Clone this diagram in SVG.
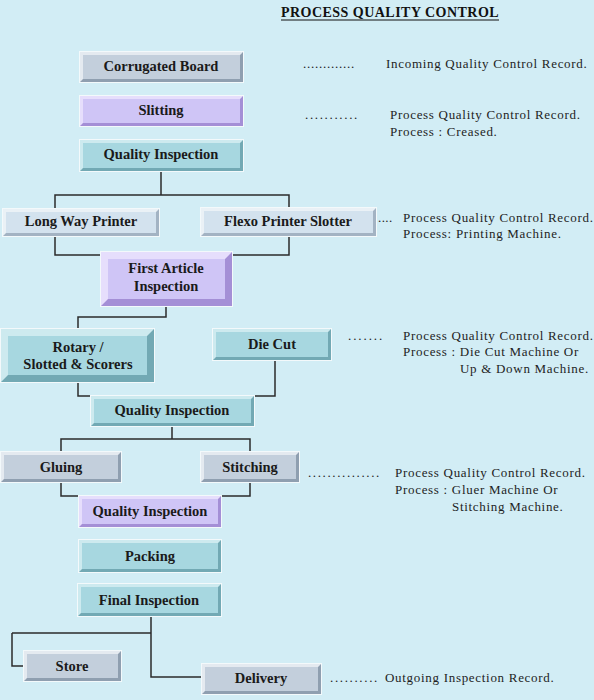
<svg xmlns="http://www.w3.org/2000/svg" width="594" height="700" viewBox="0 0 594 700">
<style>
.halo{fill:#f3f9fb}
.lbl{font-family:"Liberation Serif","Times New Roman",serif;font-weight:bold;font-size:14.5px;fill:#1a1a1a;text-anchor:middle}
.note{font-family:"Liberation Serif","Times New Roman",serif;font-size:13px;letter-spacing:0.7px;fill:#1e1e1e}
.title{font-family:"Liberation Serif","Times New Roman",serif;font-weight:bold;font-size:14px;letter-spacing:0.4px;fill:#111}
.gray .d{fill:#8f9fb0}.gray .l{fill:#e4eaf0}.gray .f{fill:#c3cfdc}
.lav .d{fill:#a48fd6}.lav .l{fill:#e6defc}.lav .f{fill:#cfc5f6}
.teal .d{fill:#72a9b4}.teal .l{fill:#cdeaef}.teal .f{fill:#a7d7e0}
.lite .d{fill:#a3b3c3}.lite .l{fill:#eaf1f6}.lite .f{fill:#d3e2ee}
#connectors path{fill:none;stroke:#2b2b2b;stroke-width:1.5}
</style>
<rect width="594" height="700" fill="#d2edf5"/>
<g id="title">
<text class="title" x="281" y="17" textLength="218" lengthAdjust="spacing">PROCESS QUALITY CONTROL</text>
<line x1="281" y1="20" x2="499" y2="20" stroke="#111" stroke-width="1.2"/>
</g>
<g id="connectors">
<path d="M161,172V195M55,208V195H289V207"/>
<path d="M55,237V255H100M289,237V255H233"/>
<path d="M166,307V317H78V328"/>
<path d="M78,383V396H90M275,361V396H255"/>
<path d="M172,427V439M61,451V439H250V451"/>
<path d="M61,483V496H79M250,483V496H221"/>
<path d="M151,617V677H201M12,633H151M12,633V666H23"/>
</g>
<g id="corrugated" class="gray">
<rect class="halo" x="79" y="51" width="165" height="32"/>
<rect class="d" x="80" y="52" width="163" height="30"/>
<polygon class="l" points="80,52 243,52 240,55 83,55 83,79 80,82"/>
<rect class="f" x="83" y="55" width="157" height="24"/>
<text class="lbl" x="161" y="71">Corrugated Board</text>
</g>
<g id="slitting" class="lav">
<rect class="halo" x="79" y="95" width="165" height="32"/>
<rect class="d" x="80" y="96" width="163" height="30"/>
<polygon class="l" points="80,96 243,96 240,99 83,99 83,123 80,126"/>
<rect class="f" x="83" y="99" width="157" height="24"/>
<text class="lbl" x="161" y="115">Slitting</text>
</g>
<g id="qi1" class="teal">
<rect class="halo" x="79" y="139" width="165" height="33"/>
<rect class="d" x="80" y="140" width="163" height="31"/>
<polygon class="l" points="80,140 243,140 240,143 83,143 83,168 80,171"/>
<rect class="f" x="83" y="143" width="157" height="25"/>
<text class="lbl" x="161" y="159">Quality Inspection</text>
</g>
<g id="longway" class="lite">
<rect class="halo" x="2" y="208" width="158" height="29"/>
<rect class="d" x="3" y="209" width="156" height="27"/>
<polygon class="l" points="3,209 159,209 156,212 6,212 6,233 3,236"/>
<rect class="f" x="6" y="212" width="150" height="21"/>
<text class="lbl" x="81" y="226">Long Way Printer</text>
</g>
<g id="flexo" class="lite">
<rect class="halo" x="200" y="207" width="177" height="30"/>
<rect class="d" x="201" y="208" width="175" height="28"/>
<polygon class="l" points="201,208 376,208 373,211 204,211 204,233 201,236"/>
<rect class="f" x="204" y="211" width="169" height="22"/>
<text class="lbl" x="288" y="226">Flexo Printer Slotter</text>
</g>
<g id="firstarticle" class="lav">
<rect class="halo" x="100" y="251" width="133" height="56"/>
<rect class="d" x="101" y="252" width="131" height="54"/>
<polygon class="l" points="101,252 232,252 225,259 108,259 108,299 101,306"/>
<rect class="f" x="108" y="259" width="117" height="40"/>
<text class="lbl" x="166" y="273">First Article</text>
<text class="lbl" x="166" y="291">Inspection</text>
</g>
<g id="rotary" class="teal">
<rect class="halo" x="0" y="328" width="155" height="55"/>
<rect class="d" x="1" y="329" width="153" height="53"/>
<polygon class="l" points="1,329 154,329 147,336 8,336 8,375 1,382"/>
<rect class="f" x="8" y="336" width="139" height="39"/>
<text class="lbl" x="78" y="352">Rotary /</text>
<text class="lbl" x="78" y="369">Slotted &amp; Scorers</text>
</g>
<g id="diecut" class="teal">
<rect class="halo" x="212" y="328" width="120" height="33"/>
<rect class="d" x="213" y="329" width="118" height="31"/>
<polygon class="l" points="213,329 331,329 328,332 216,332 216,357 213,360"/>
<rect class="f" x="216" y="332" width="112" height="25"/>
<text class="lbl" x="272" y="349">Die Cut</text>
</g>
<g id="qi2" class="teal">
<rect class="halo" x="90" y="395" width="165" height="32"/>
<rect class="d" x="91" y="396" width="163" height="30"/>
<polygon class="l" points="91,396 254,396 251,399 94,399 94,423 91,426"/>
<rect class="f" x="94" y="399" width="157" height="24"/>
<text class="lbl" x="172" y="415">Quality Inspection</text>
</g>
<g id="gluing" class="gray">
<rect class="halo" x="0" y="451" width="122" height="32"/>
<rect class="d" x="1" y="452" width="120" height="30"/>
<polygon class="l" points="1,452 121,452 118,455 4,455 4,479 1,482"/>
<rect class="f" x="4" y="455" width="114" height="24"/>
<text class="lbl" x="61" y="472">Gluing</text>
</g>
<g id="stitching" class="gray">
<rect class="halo" x="200" y="451" width="100" height="32"/>
<rect class="d" x="201" y="452" width="98" height="30"/>
<polygon class="l" points="201,452 299,452 296,455 204,455 204,479 201,482"/>
<rect class="f" x="204" y="455" width="92" height="24"/>
<text class="lbl" x="250" y="472">Stitching</text>
</g>
<g id="qi3" class="lav">
<rect class="halo" x="78" y="495" width="144" height="33"/>
<rect class="d" x="79" y="496" width="142" height="31"/>
<polygon class="l" points="79,496 221,496 218,499 82,499 82,524 79,527"/>
<rect class="f" x="82" y="499" width="136" height="25"/>
<text class="lbl" x="150" y="516">Quality Inspection</text>
</g>
<g id="packing" class="teal">
<rect class="halo" x="78" y="539" width="144" height="34"/>
<rect class="d" x="79" y="540" width="142" height="32"/>
<polygon class="l" points="79,540 221,540 218,543 82,543 82,569 79,572"/>
<rect class="f" x="82" y="543" width="136" height="26"/>
<text class="lbl" x="150" y="561">Packing</text>
</g>
<g id="final" class="teal">
<rect class="halo" x="77" y="583" width="145" height="34"/>
<rect class="d" x="78" y="584" width="143" height="32"/>
<polygon class="l" points="78,584 221,584 218,587 81,587 81,613 78,616"/>
<rect class="f" x="81" y="587" width="137" height="26"/>
<text class="lbl" x="149" y="605">Final Inspection</text>
</g>
<g id="store" class="gray">
<rect class="halo" x="23" y="650" width="99" height="32"/>
<rect class="d" x="24" y="651" width="97" height="30"/>
<polygon class="l" points="24,651 121,651 118,654 27,654 27,678 24,681"/>
<rect class="f" x="27" y="654" width="91" height="24"/>
<text class="lbl" x="72" y="671">Store</text>
</g>
<g id="delivery" class="gray">
<rect class="halo" x="201" y="663" width="121" height="32"/>
<rect class="d" x="202" y="664" width="119" height="30"/>
<polygon class="l" points="202,664 321,664 318,667 205,667 205,691 202,694"/>
<rect class="f" x="205" y="667" width="113" height="24"/>
<text class="lbl" x="261" y="683">Delivery</text>
</g>
<g id="notes">
<text class="note" x="303" y="68" textLength="52" lengthAdjust="spacing">.............</text>
<text class="note" x="386" y="68">Incoming Quality Control Record.</text>
<text class="note" x="305" y="119" textLength="53" lengthAdjust="spacing">...........</text>
<text class="note" x="390" y="119">Process Quality Control Record.</text>
<text class="note" x="390" y="136">Process : Creased.</text>
<text class="note" x="378" y="222" textLength="15" lengthAdjust="spacing">....</text>
<text class="note" x="403" y="222">Process Quality Control Record.</text>
<text class="note" x="403" y="238">Process: Printing Machine.</text>
<text class="note" x="348" y="340" textLength="35" lengthAdjust="spacing">.......</text>
<text class="note" x="403" y="340">Process Quality Control Record.</text>
<text class="note" x="403" y="356">Process : Die Cut Machine Or</text>
<text class="note" x="460" y="373">Up &amp; Down Machine.</text>
<text class="note" x="308" y="477" textLength="72" lengthAdjust="spacing">...............</text>
<text class="note" x="395" y="477">Process Quality Control Record.</text>
<text class="note" x="395" y="494">Process : Gluer Machine Or</text>
<text class="note" x="452" y="511">Stitching Machine.</text>
<text class="note" x="330" y="682" textLength="48" lengthAdjust="spacing">..........</text>
<text class="note" x="385" y="682">Outgoing Inspection Record.</text>
</g>
</svg>
